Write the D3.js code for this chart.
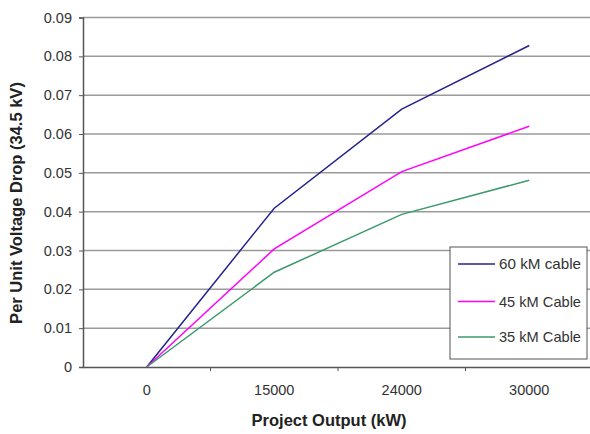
<!DOCTYPE html>
<html><head><meta charset="utf-8">
<script src="https://cdn.jsdelivr.net/npm/d3@7"></script>
<style>body{margin:0;background:#fff}svg{display:block;font-family:"Liberation Sans",Arial,sans-serif}</style>
</head><body><svg id="c" width="590" height="434"></svg>
<script>
const categories = ["0","15000","24000","30000"];
const cable60 = [0, 0.0409, 0.0664, 0.0828];
const cable45 = [0, 0.0304, 0.0503, 0.0620];
const cable35 = [0, 0.0244, 0.0393, 0.0481];
const seriesNames = ["60 kM cable","45 kM Cable","35 kM Cable"];
const seriesColors = ["#23238a","#ff00ff","#3c9a6c"];
const yTicks = [0,0.01,0.02,0.03,0.04,0.05,0.06,0.07,0.08,0.09];

const svg = d3.select("#c");
const L=83, R=593, T=17.5, B=367;
const x = d3.scaleBand().domain(categories).range([L,R]);
const y = d3.scaleLinear().domain([0,0.09]).range([B,T]);

// gridlines
svg.append("g").selectAll("line").data(yTicks.slice(1)).join("line")
  .attr("x1",L).attr("x2",R).attr("y1",d=>y(d)).attr("y2",d=>y(d))
  .attr("stroke","#9a9a9a").attr("stroke-width",1.5);

// y axis
const ya = svg.append("g").attr("transform",`translate(${L},0)`)
  .call(d3.axisLeft(y).tickValues(yTicks).tickFormat(d=>d===0?"0":d3.format(".2f")(d)).tickSize(4).tickPadding(7));
ya.select(".domain").attr("stroke","#555").attr("stroke-width",1.5);
ya.selectAll(".tick line").attr("stroke","#555");
ya.selectAll("text").attr("font-size",14.5).attr("fill","#333").style("font-family","Liberation Sans, Arial, sans-serif");

// x axis
const xa = svg.append("g").attr("transform",`translate(0,${B})`)
  .call(d3.axisBottom(x).tickSize(0).tickPadding(18));
xa.select(".domain").attr("stroke","#555").attr("stroke-width",1.5);
xa.selectAll("text").attr("font-size",14.5).attr("fill","#333").style("font-family","Liberation Sans, Arial, sans-serif");
svg.append("g").selectAll("line").data(categories.slice(1)).join("line")
  .attr("x1",d=>x(d)).attr("x2",d=>x(d)).attr("y1",B).attr("y2",B+4)
  .attr("stroke","#555");

// lines
const allSeries=[cable60,cable45,cable35];
const line = d3.line().x((d,i)=>x(categories[i])+x.bandwidth()/2).y(d=>y(d));
allSeries.forEach((s,k)=>{
  svg.append("path").datum(s).attr("d",line).attr("fill","none")
    .attr("stroke",seriesColors[k]).attr("stroke-width",1.5);
});

// titles
svg.append("text").attr("x",329).attr("y",426).attr("text-anchor","middle")
  .attr("font-size",16.5).attr("font-weight","bold").attr("fill","#222").text("Project Output (kW)");
svg.append("text").attr("transform","translate(22,203) rotate(-90)").attr("text-anchor","middle")
  .attr("font-size",16.5).attr("font-weight","bold").attr("fill","#222").text("Per Unit Voltage Drop (34.5 kV)");

// legend
const lg = svg.append("g");
lg.append("rect").attr("x",450).attr("y",247).attr("width",137).attr("height",112)
  .attr("fill","#fff").attr("stroke","#555").attr("stroke-width",1);
const rowY=[264,301.5,337];
seriesNames.forEach((n,k)=>{
  lg.append("line").attr("x1",458).attr("x2",495).attr("y1",rowY[k]).attr("y2",rowY[k])
    .attr("stroke",seriesColors[k]).attr("stroke-width",1.5);
  lg.append("text").attr("x",499).attr("y",rowY[k]+5).attr("font-size",14.5)
    .attr("fill","#333").attr("textLength",82).attr("lengthAdjust","spacingAndGlyphs").text(n);
});
</script></body></html>
